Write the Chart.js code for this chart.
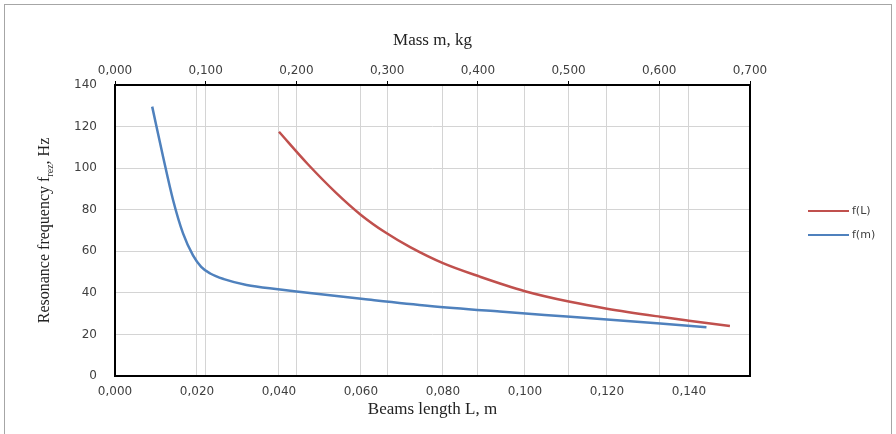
<!DOCTYPE html>
<html>
<head>
    <title>Resonance frequency</title>
    <script src="https://cdn.jsdelivr.net/npm/chart.js"></script>
    <style>
        body { margin: 0; background: #fff; }
    </style>
</head>
<body>
    <canvas id="resChart" width="896" height="434"></canvas>
    <script>
        // f(L): beam length L, m (bottom axis)
        const lengthL = [0.040, 0.047, 0.054, 0.060, 0.066, 0.072, 0.080, 0.089, 0.100, 0.111, 0.120, 0.133, 0.140, 0.150];
        const freqL   = [117.5, 102.0, 88.0, 77.5, 69.0, 62.0, 54.3, 47.8, 40.8, 35.7, 32.4, 28.5, 26.6, 24.0];

        // f(m): mass m, kg (top axis)
        const massM = [0.041, 0.053, 0.064, 0.075, 0.086, 0.095, 0.105, 0.120, 0.145, 0.182, 0.200, 0.274, 0.347, 0.424, 0.502, 0.601, 0.652];
        const freqM = [129.6, 105.5, 84.7, 68.6, 58.0, 52.5, 49.3, 46.6, 43.8, 41.6, 40.6, 37.0, 33.7, 31.0, 28.5, 25.3, 23.5];

        const lengthTicks = [0, 0.02, 0.04, 0.06, 0.08, 0.10, 0.12, 0.14];
        const seriesNames = ['f(L)', 'f(m)'];

        const fmt = v => Number(v).toFixed(3).replace('.', ',');
        const tickFont = { family: 'DejaVu Sans', size: 12 };
        const serif = 'Liberation Serif';

        const frame = {
            id: 'frame',
            beforeDraw(chart) {
                const ctx = chart.ctx;
                ctx.save();
                ctx.strokeStyle = '#a6a6a6';
                ctx.lineWidth = 1;
                ctx.strokeRect(4.5, 4.5, 887, 440);
                ctx.restore();
            },
            afterDraw(chart) {
                const ctx = chart.ctx;
                const a = chart.chartArea;
                ctx.save();
                // plot box
                ctx.strokeStyle = '#000';
                ctx.lineWidth = 2;
                ctx.strokeRect(a.left, a.top, a.right - a.left, a.bottom - a.top);

                // y title with subscript
                ctx.translate(45, (a.top + a.bottom) / 2);
                ctx.rotate(-Math.PI / 2);
                ctx.fillStyle = '#222';
                ctx.textBaseline = 'middle';
                const big = '16px "' + serif + '"';
                const small = '10px "' + serif + '"';
                const parts = [['Resonance frequency f', big, 0], ['rez', small, 5], [', Hz', big, 0]];
                let total = 0;
                parts.forEach(p => { ctx.font = p[1]; total += ctx.measureText(p[0]).width; });
                let x = -total / 2;
                parts.forEach(p => {
                    ctx.font = p[1];
                    ctx.fillText(p[0], x, p[2]);
                    x += ctx.measureText(p[0]).width;
                });
                ctx.restore();

                // legend
                ctx.save();
                ctx.font = '11px "DejaVu Sans"';
                ctx.textBaseline = 'middle';
                chart.data.datasets.forEach((ds, i) => {
                    const y = 211 + i * 24;
                    ctx.strokeStyle = ds.borderColor;
                    ctx.lineWidth = 2;
                    ctx.beginPath();
                    ctx.moveTo(808, y);
                    ctx.lineTo(849, y);
                    ctx.stroke();
                    ctx.fillStyle = '#404040';
                    ctx.fillText(ds.label, 852, y);
                });
                ctx.restore();
            }
        };

        const ctx = document.getElementById('resChart').getContext('2d');
        new Chart(ctx, {
            type: 'line',
            data: {
                datasets: [{
                    label: seriesNames[0],
                    data: lengthL.map((v, i) => ({ x: v, y: freqL[i] })),
                    xAxisID: 'x',
                    borderColor: '#c0504d',
                    borderWidth: 2.5,
                    pointRadius: 0,
                    cubicInterpolationMode: 'monotone'
                }, {
                    label: seriesNames[1],
                    data: massM.map((v, i) => ({ x: v, y: freqM[i] })),
                    xAxisID: 'x2',
                    borderColor: '#4f81bd',
                    borderWidth: 2.5,
                    pointRadius: 0,
                    cubicInterpolationMode: 'monotone'
                }]
            },
            options: {
                responsive: false,
                animation: false,
                layout: { padding: { left: 0, top: 0, right: 146, bottom: 0 } },
                plugins: { legend: { display: false }, tooltip: { enabled: false } },
                scales: {
                    x: {
                        type: 'linear',
                        position: 'bottom',
                        min: 0,
                        max: 0.1549,
                        afterBuildTicks: s => { s.ticks = lengthTicks.map(v => ({ value: v })); },
                        afterFit: s => { s.height = 58; },
                        grid: { color: '#d4d4d4', drawTicks: false },
                        border: { display: false },
                        ticks: { font: tickFont, color: '#404040', padding: 9, callback: v => fmt(v), maxRotation: 0, autoSkip: false },
                        title: { display: true, text: 'Beams length L, m', font: { family: serif, size: 17 }, color: '#222', padding: { top: 0, bottom: 14 } }
                    },
                    x2: {
                        type: 'linear',
                        position: 'top',
                        min: 0,
                        max: 0.7,
                        afterFit: s => { s.height = 85; },
                        grid: { color: '#d4d4d4', tickColor: '#000', tickLength: 4 },
                        border: { display: false },
                        ticks: { stepSize: 0.1, font: tickFont, color: '#404040', padding: 3, callback: v => fmt(v), maxRotation: 0 },
                        title: { display: true, text: 'Mass m, kg', font: { family: serif, size: 17 }, color: '#222', padding: { top: 30, bottom: 0 } }
                    },
                    y: {
                        min: 0,
                        max: 140,
                        afterFit: s => { s.width = 115; },
                        grid: { color: '#d4d4d4', drawTicks: false },
                        border: { display: false },
                        ticks: { stepSize: 20, font: tickFont, color: '#404040', padding: 18 }
                    }
                }
            },
            plugins: [frame]
        });
    </script>
</body>
</html>
